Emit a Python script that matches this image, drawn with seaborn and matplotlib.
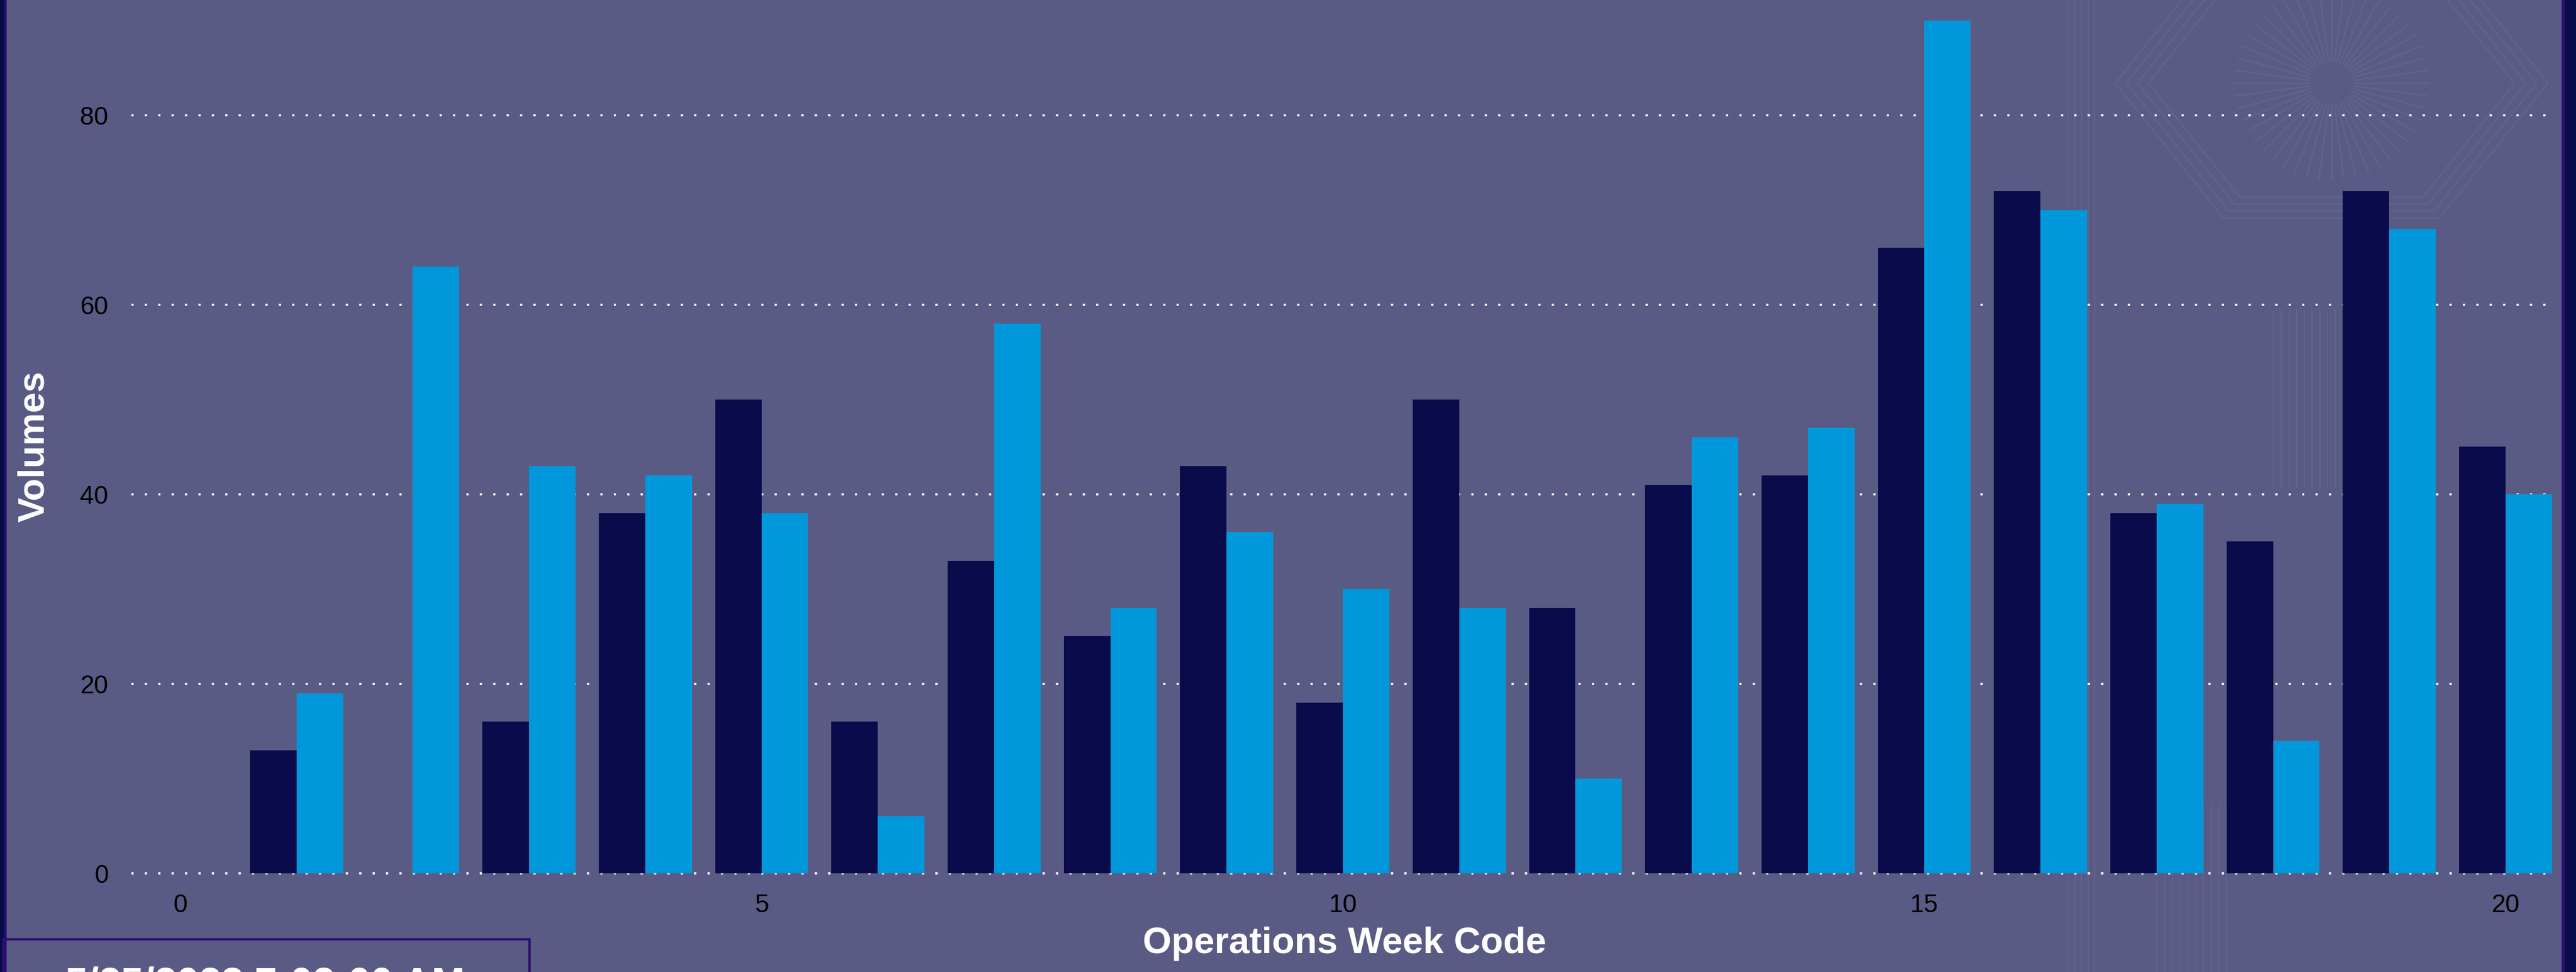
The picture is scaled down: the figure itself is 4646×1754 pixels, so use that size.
import numpy as np
import pandas as pd
import matplotlib
matplotlib.use("Agg")
import matplotlib.pyplot as plt
from matplotlib.lines import Line2D
from matplotlib.patches import Rectangle
import seaborn as sns

# ---- data ----
weeks = list(range(1, 21))
series_names = ["Series A", "Series B"]
series_a = [13, 0, 16, 38, 50, 16, 33, 25, 43, 18, 50, 28, 41, 42, 66, 72, 38, 35, 72, 45]
series_b = [19, 64, 43, 42, 38, 6, 58, 28, 36, 30, 28, 10, 46, 47, 90, 70, 39, 14, 68, 40]
x_ticks = [0, 5, 10, 15, 20]
y_ticks = [0, 20, 40, 60, 80]
x_label = "Operations Week Code"
y_label = "Volumes"
stamp_text = "5/25/2023 7:02:00 AM"

df = pd.DataFrame({
    "week": weeks * 2,
    "value": series_a + series_b,
    "series": [series_names[0]] * len(weeks) + [series_names[1]] * len(weeks),
})

BG = "#5a5b84"
DARK = "#090b4a"
BLUE = "#0098da"
PURPLE = "#2a1070"
WM = "#62638d"

sns.set_theme(style="white")
plt.rcParams["font.family"] = ["Liberation Sans", "DejaVu Sans"]

W, H = 4646, 1754
fig = plt.figure(figsize=(W / 100, H / 100), dpi=100, facecolor=BG)


def fx(px):
    return px / W


def fy(py):
    return 1 - py / H


# ---- faint watermark pattern on the right (behind everything) ----
cx, cy = 4205, 150
for ang in np.linspace(0, 2 * np.pi, 48, endpoint=False):
    r0, r1 = 40, 175
    fig.add_artist(Line2D([fx(cx + r0 * np.cos(ang)), fx(cx + r1 * np.cos(ang))],
                          [fy(cy + r0 * np.sin(ang)), fy(cy + r1 * np.sin(ang))],
                          color=WM, lw=2, zorder=-5))
for r in (330, 350, 370, 390):
    xs = [fx(cx + r * np.cos(a)) for a in np.linspace(0, 2 * np.pi, 7)]
    ys = [fy(cy + r * 0.72 * np.sin(a)) for a in np.linspace(0, 2 * np.pi, 7)]
    fig.add_artist(Line2D(xs, ys, color=WM, lw=2, zorder=-5))
for k in range(5):
    xk = 3730 + k * 12
    fig.add_artist(Line2D([fx(xk), fx(xk)], [0, 1], color=WM, lw=1.5, zorder=-5))
for k in range(10):
    xk = 3890 + k * 14
    fig.add_artist(Line2D([fx(xk), fx(xk)], [fy(1760), fy(1450)], color=WM, lw=1.5, zorder=-5))
for k in range(10):
    xk = 4100 + k * 14
    fig.add_artist(Line2D([fx(xk), fx(xk)], [fy(560), fy(880)], color=WM, lw=1.5, zorder=-5))

# ---- axes ----
left, right = 237 / W, 4607 / W
bottom = (H - 1576) / H
top = 0.9995
ax = fig.add_axes([left, bottom, right - left, top - bottom])
ax.set_facecolor("none")

sns.barplot(data=df, x="week", y="value", hue="series", native_scale=True,
            palette=[DARK, BLUE], saturation=1, width=0.8, ax=ax,
            edgecolor="none", linewidth=0, legend=False, zorder=3)

ax.set_xlim(-0.42, 20.42)
ax.set_ylim(0, 92.1)
ax.set_xticks(x_ticks)
ax.set_xticklabels([str(t) for t in x_ticks])
ax.set_yticks(y_ticks)
ax.set_yticklabels([str(t) for t in y_ticks])
ax.tick_params(axis="both", length=0, labelsize=33, colors="black")
ax.tick_params(axis="x", pad=26)
ax.tick_params(axis="y", pad=30)
for s in ax.spines.values():
    s.set_visible(False)

ax.yaxis.grid(True, color="white", linewidth=2.9, linestyle=(0, (1, 5)))
ax.xaxis.grid(False)
ax.set_axisbelow(True)
for gl in ax.get_ygridlines():
    gl.set_clip_on(False)
    gl.set_zorder(1)

ax.set_xlabel("")
ax.set_ylabel("")
fig.text(2425 / W, fy(1703), x_label, ha="center", va="center",
         fontsize=48, fontweight="bold", color="white")
fig.text(fx(62), fy(806), y_label, ha="center", va="center", rotation=90,
         fontsize=48, fontweight="bold", color="white")

# ---- frame / borders ----
fig.add_artist(Rectangle((0, 0), fx(8), 1, transform=fig.transFigure,
                         facecolor=DARK, edgecolor="none", zorder=10))
fig.add_artist(Rectangle((fx(8), 0), fx(4), 1, transform=fig.transFigure,
                         facecolor=PURPLE, edgecolor="none", zorder=10))
fig.add_artist(Rectangle((fx(4620), 0), fx(6), 1, transform=fig.transFigure,
                         facecolor=PURPLE, edgecolor="none", zorder=10))
fig.add_artist(Rectangle((fx(4626), 0), fx(20), 1, transform=fig.transFigure,
                         facecolor=DARK, edgecolor="none", zorder=10))

# date stamp box
fig.add_artist(Rectangle((fx(6), fy(1780)), fx(955 - 6), (1780 - 1695) / H,
                         transform=fig.transFigure, facecolor="none",
                         edgecolor=PURPLE, linewidth=3, zorder=11))
fig.text(fx(118), fy(1744), stamp_text, ha="left", va="top",
         fontsize=52, fontweight="bold", color="white", zorder=12)

fig.savefig("out.png", dpi=100, facecolor=BG)
